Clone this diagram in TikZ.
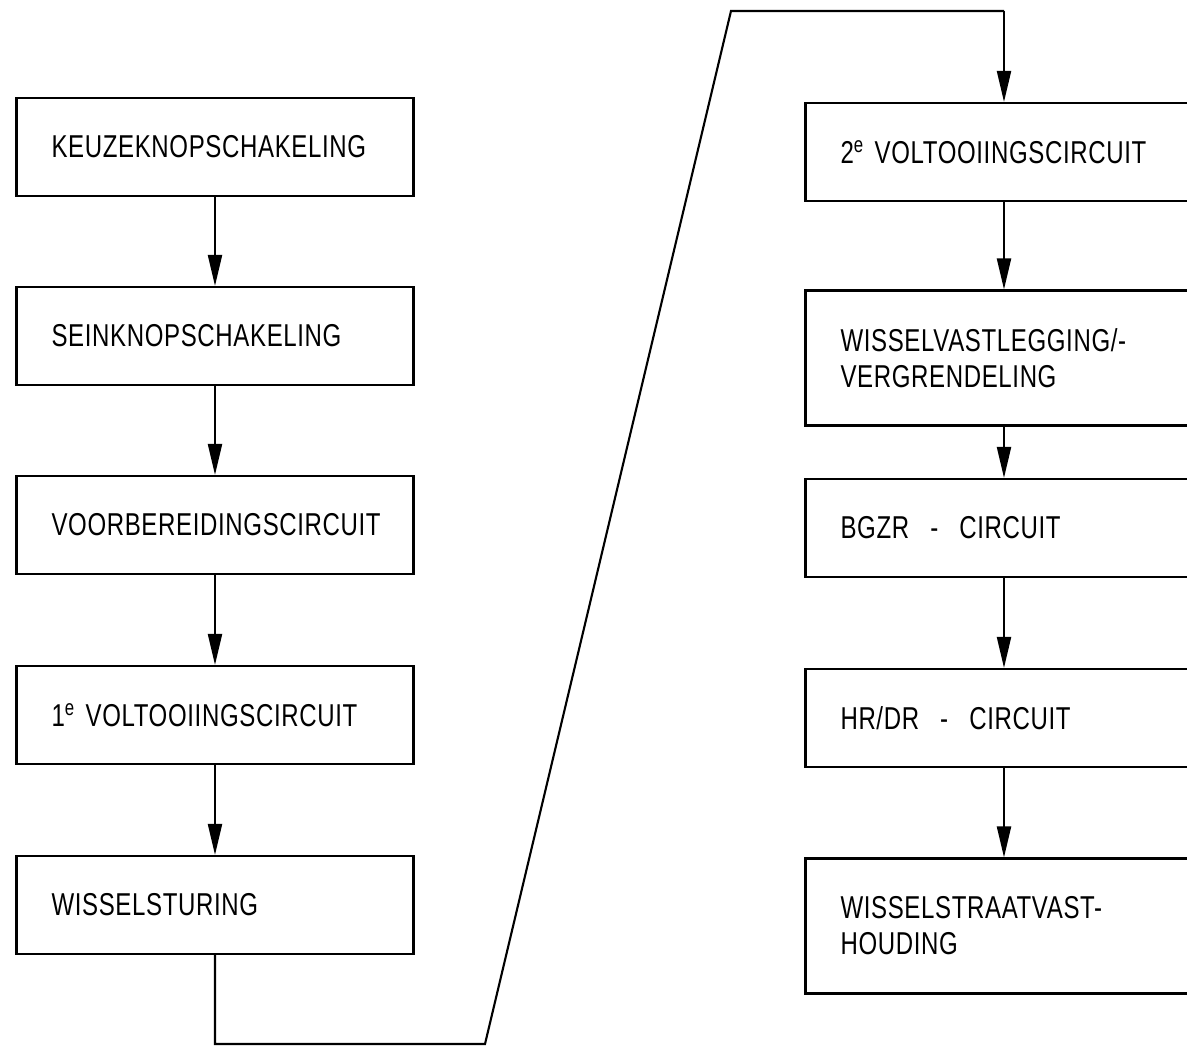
\documentclass[tikz,border=0pt]{standalone}
\usepackage{fontspec}
\setmainfont{Liberation Sans}[FakeStretch=0.76,LetterSpace=2]
\usepackage{tikz}
\usetikzlibrary{arrows.meta,positioning,calc}

\tikzset{
  stage/.style={draw,line width=1.2pt,rectangle,minimum width=7.94cm,minimum height=1.96cm,
    inner xsep=0.7cm,inner ysep=0pt,text width=6.54cm,align=left,
    font=\fontsize{18}{20.5}\selectfont},
  tallstage/.style={stage,minimum height=2.7cm},
  flow/.style={line width=1.2pt,-{Triangle[length=0.62cm,width=0.28cm]}},
  link/.style={line width=1.2pt}
}

\begin{document}
\begin{tikzpicture}[x=0.02cm,y=-0.02cm]
  \path[use as bounding box,clip] (0,0) rectangle (1187,1047);
  \node[stage] (keuze) at (215,147) {KEUZEKNOPSCHAKELING};
  \node[stage] (sein) at (215,336) {SEINKNOPSCHAKELING};
  \node[stage] (voorb) at (215,525) {VOORBEREIDINGSCIRCUIT};
  \node[stage] (volt1) at (215,715) {1\textsuperscript{e} VOLTOOIINGSCIRCUIT};
  \node[stage] (sturing) at (215,905) {WISSELSTURING};
  \node[stage] (volt2) at (1004,152) {2\textsuperscript{e} VOLTOOIINGSCIRCUIT};
  \node[tallstage] (vastl) at (1004,358) {WISSELVASTLEGGING/-\\VERGRENDELING};
  \node[stage] (bgzr) at (1004,528) {BGZR~ -~ CIRCUIT};
  \node[stage] (hrdr) at (1004,718) {HR/DR~ -~ CIRCUIT};
  \node[tallstage] (straat) at (1004,926) {WISSELSTRAATVAST-\\HOUDING};
  \coordinate (down) at (215,1044);
  \coordinate (foot) at (485,1044);
  \coordinate (peak) at (731,11);
  \coordinate (over) at (1004,11);
  \draw[flow] (keuze) -- (sein);
  \draw[flow] (sein) -- (voorb);
  \draw[flow] (voorb) -- (volt1);
  \draw[flow] (volt1) -- (sturing);
  \draw[link] (sturing.south) -- (down) -- (foot) -- (peak) -- (over);
  \draw[flow] (over) -- (volt2.north);
  \draw[flow] (volt2) -- (vastl);
  \draw[flow] (vastl) -- (bgzr);
  \draw[flow] (bgzr) -- (hrdr);
  \draw[flow] (hrdr) -- (straat);
\end{tikzpicture}
\end{document}
